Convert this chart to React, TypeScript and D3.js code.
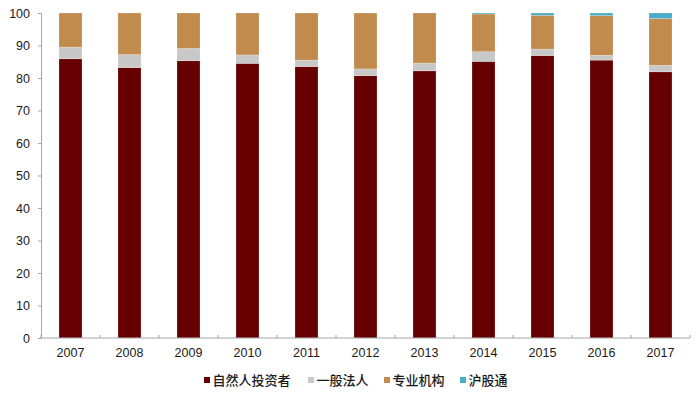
import React, { useEffect, useRef } from 'react';
import * as d3 from 'd3';

const years = ['2007', '2008', '2009', '2010', '2011', '2012', '2013', '2014', '2015', '2016', '2017'];
const natural = [85.9, 83.2, 85.3, 84.5, 83.5, 80.7, 82.2, 85.1, 86.9, 85.5, 81.9];
const legalPerson = [3.6, 4.0, 3.8, 2.6, 2.0, 2.1, 2.4, 3.0, 2.0, 1.5, 2.0];
const institutions = [10.5, 12.8, 10.9, 12.9, 14.5, 17.2, 15.4, 11.6, 10.4, 12.2, 14.4];
const hkConnect = [0, 0, 0, 0, 0, 0, 0, 0.3, 0.7, 0.8, 1.7];

const seriesNames = ['自然人投资者', '一般法人', '专业机构', '沪股通'];
const seriesColors = ['#660000', '#c8c8c8', '#c08b4c', '#4aacc6'];
const yTicks = [0, 10, 20, 30, 40, 50, 60, 70, 80, 90, 100];

export default function App() {
    const ref = useRef<SVGSVGElement>(null);

    useEffect(() => {
        const svg = d3.select(ref.current);
        svg.selectAll('*').remove();
        const margin = { top: 13, left: 41, right: 10, bottom: 58 };

        const rows = years.map((y, i) => ({
            year: y,
            s0: natural[i],
            s1: legalPerson[i],
            s2: institutions[i],
            s3: hkConnect[i],
        }));
        const stack = d3.stack<any>().keys(['s0', 's1', 's2', 's3']);
        const layers = stack(rows);

        const x = d3.scaleBand()
            .domain(years)
            .range([margin.left, 690])
            .paddingInner(0.61)
            .paddingOuter(0.305);
        const y = d3.scaleLinear()
            .domain([0, 100])
            .range([338, margin.top]);

        // bars
        svg.append('g')
            .selectAll('g')
            .data(layers)
            .enter().append('g')
            .attr('fill', (d, i) => seriesColors[i])
            .selectAll('rect')
            .data(d => d.filter(v => v[1] - v[0] > 0))
            .enter().append('rect')
            .attr('x', d => x(d.data.year)!)
            .attr('width', x.bandwidth())
            .attr('y', d => y(d[1]))
            .attr('height', d => y(d[0]) - y(d[1]))
            .attr('stroke', '#ffffff')
            .attr('stroke-opacity', 0.35)
            .attr('stroke-width', 0.6);

        // y axis
        const yAxis = svg.append('g')
            .attr('transform', 'translate(' + margin.left + ',0)')
            .call(d3.axisLeft(y).tickValues(yTicks).tickSize(3).tickPadding(8));
        yAxis.select('.domain').attr('stroke', '#a6a6a6');
        yAxis.selectAll('line').attr('stroke', '#a6a6a6');
        yAxis.selectAll('text')
            .attr('font-family', '"Liberation Sans", Arial, sans-serif')
            .attr('font-size', 12.5)
            .attr('fill', '#1a1a1a');

        // x axis
        const xg = svg.append('g').attr('transform', 'translate(0,338)');
        xg.append('line')
            .attr('x1', margin.left).attr('x2', 690)
            .attr('y1', 0).attr('y2', 0)
            .attr('stroke', '#a6a6a6');
        const step = x.step();
        xg.selectAll('.tick')
            .data(d3.range(years.length + 1))
            .enter().append('line')
            .attr('x1', i => margin.left + i * step)
            .attr('x2', i => margin.left + i * step)
            .attr('y1', 0).attr('y2', -3)
            .attr('stroke', '#a6a6a6');
        xg.selectAll('.label')
            .data(years)
            .enter().append('text')
            .attr('x', d => x(d)! + x.bandwidth() / 2)
            .attr('y', 19)
            .attr('text-anchor', 'middle')
            .attr('font-family', '"Liberation Sans", Arial, sans-serif')
            .attr('font-size', 12.5)
            .attr('fill', '#1a1a1a')
            .text(d => d);

        // legend
        const legendX = [204, 308, 384, 460];
        const legend = svg.append('g');
        seriesNames.forEach((name, i) => {
            legend.append('rect')
                .attr('x', legendX[i])
                .attr('y', 377)
                .attr('width', 6)
                .attr('height', 6)
                .attr('fill', seriesColors[i]);
            legend.append('text')
                .attr('x', legendX[i] + 8.5)
                .attr('y', 385)
                .attr('font-family', '"Noto Sans CJK SC", sans-serif')
                .attr('font-size', 13)
                .attr('font-weight', 500)
                .attr('fill', '#1a1a1a')
                .text(name);
        });
    }, []);

    return (
        <svg ref={ref} width={700} height={396}
            style={{ position: 'absolute', left: 0, top: 0, background: '#fff' }} />
    );
}
